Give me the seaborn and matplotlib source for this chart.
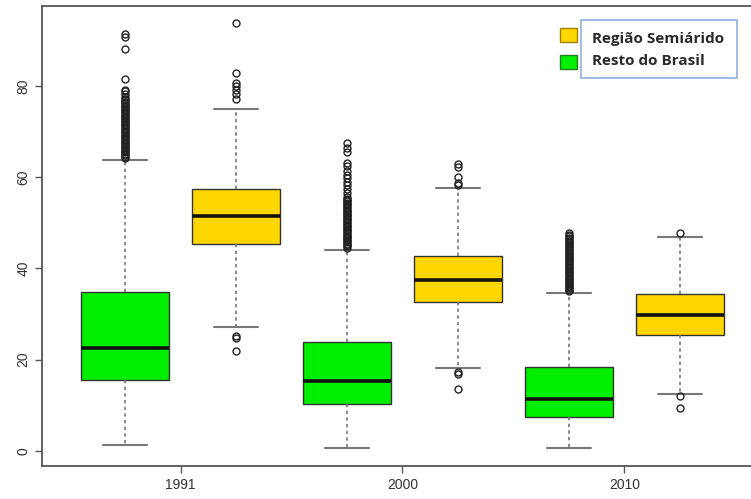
import numpy as np
import pandas as pd
import matplotlib
matplotlib.use("Agg")
import matplotlib.pyplot as plt
from matplotlib.patches import Rectangle
import seaborn as sns

# ---- data (five-number summaries + outliers) ----
years = ["1991", "1991", "2000", "2000", "2010", "2010"]
regions = ["Resto do Brasil", "Região Semiárido"] * 3
whisker_lo = [1.2, 27.2, 0.7, 18.1, 0.7, 12.5]
q1 = [15.5, 45.3, 10.2, 32.7, 7.4, 25.5]
median = [22.5, 51.5, 15.3, 37.5, 11.4, 29.8]
q3 = [34.9, 57.5, 23.8, 42.8, 18.3, 34.3]
whisker_hi = [63.7, 75.0, 44.1, 57.7, 34.6, 46.9]
outliers = [
    [64.2, 64.5, 64.8, 65.1, 65.4, 65.7, 66.0, 66.3, 66.6, 66.9, 67.2, 67.5,
     67.8, 68.1, 68.4, 68.7, 69.0, 69.3, 69.6, 69.9, 70.2, 70.5, 70.8, 71.1,
     71.4, 71.7, 72.0, 72.3, 72.6, 72.9, 73.2, 73.5, 73.8, 74.1, 74.4, 74.7,
     75.0, 75.3, 75.6, 75.9, 76.2, 76.5, 76.8, 77.1, 77.6, 78.2, 78.8, 79.1,
     81.4, 88.0, 90.6, 91.3],
    [21.8, 24.7, 25.2, 77.1, 78.2, 79.1, 80.0, 80.7, 82.9, 93.7],
    [44.5, 44.8, 45.1, 45.4, 45.7, 46.0, 46.3, 46.6, 46.9, 47.2, 47.5, 47.8,
     48.1, 48.4, 48.7, 49.0, 49.3, 49.6, 49.9, 50.2, 50.5, 50.8, 51.1, 51.4,
     51.7, 52.0, 52.3, 52.6, 52.9, 53.2, 53.5, 53.8, 54.1, 54.4, 54.7, 55.0,
     55.3, 55.7, 56.6, 57.4, 58.2, 59.0, 59.8, 60.5, 61.4, 62.5, 63.1, 65.4,
     66.3, 67.4],
    [13.5, 16.9, 17.2, 58.2, 58.8, 60.1, 62.3, 62.9],
    [35.0, 35.3, 35.6, 35.9, 36.2, 36.5, 36.8, 37.1, 37.4, 37.7, 38.0, 38.3,
     38.6, 38.9, 39.2, 39.5, 39.8, 40.1, 40.4, 40.7, 41.0, 41.3, 41.6, 41.9,
     42.2, 42.5, 42.8, 43.1, 43.4, 43.7, 44.0, 44.3, 44.6, 44.9, 45.2, 45.5,
     45.8, 46.1, 46.4, 46.7, 47.0, 47.4, 47.8],
    [9.5, 12.1, 47.7],
]
year_ticks = ["1991", "2000", "2010"]
region_order = ["Resto do Brasil", "Região Semiárido"]
legend_labels = ["Região Semiárido", "Resto do Brasil"]
colors = {"Resto do Brasil": "#00ee00", "Região Semiárido": "#ffd700"}

# ---- rebuild a sample whose quartiles/whiskers reproduce the summaries ----
REP = 200
rows = []
for i in range(len(years)):
    vals = ([whisker_lo[i]] * REP + [q1[i]] * REP + [median[i]] * REP +
            [q3[i]] * REP + [whisker_hi[i]] * REP + list(outliers[i]))
    rows.append(pd.DataFrame({"year": years[i], "region": regions[i], "value": vals}))
df = pd.concat(rows, ignore_index=True)

sns.set_style("white")
plt.rcParams["font.family"] = ["Liberation Sans", "DejaVu Sans"]

fig = plt.figure(figsize=(7.51, 4.99), dpi=100)
ax = fig.add_axes([42 / 751, 1 - 466 / 499, (763 - 42) / 751, (466 - 6) / 499])

sns.boxplot(
    data=df, x="year", y="value", hue="region", order=year_ticks,
    hue_order=region_order, palette=colors, saturation=1, width=1.0, gap=0.21,
    linecolor="#333333", linewidth=1.0, legend=False, ax=ax,
    whiskerprops=dict(linestyle=(0, (2, 2)), color="#777777", linewidth=1.2),
    capprops=dict(color="#777777", linewidth=1.5),
    medianprops=dict(color="#111111", linewidth=2.6),
    flierprops=dict(marker="o", markerfacecolor="none", markeredgecolor="#222222",
                    markersize=5, markeredgewidth=1.0),
)

ax.set_xlim(-0.624, 2.624)
ax.set_ylim(-3.3, 97.5)
ax.set_yticks([0, 20, 40, 60, 80])
ax.set_yticklabels(["0", "20", "40", "60", "80"], rotation=90, va="center")
ax.set_xlabel("")
ax.set_ylabel("")
ax.tick_params(axis="both", which="both", length=5, width=1, color="#555555",
               labelcolor="#333333", labelsize=10, left=True, bottom=True)
for side in ["left", "top", "bottom"]:
    ax.spines[side].set_color("#555555")
    ax.spines[side].set_linewidth(1.3)
ax.spines["right"].set_visible(False)

# ---- legend (swatches + framed text box) ----
sw_colors = [colors["Região Semiárido"], colors["Resto do Brasil"]]
sw_edges = ["#a08000", "#208020"]
sw_y = [35, 62]
for c, e, yc in zip(sw_colors, sw_edges, sw_y):
    fig.patches.append(Rectangle((560 / 751, 1 - (yc + 7) / 499), 17 / 751, 14 / 499,
                                 transform=fig.transFigure, facecolor=c,
                                 edgecolor=e, linewidth=1))
fig.patches.append(Rectangle((581 / 751, 1 - 78 / 499), 156 / 751, 58 / 499,
                             transform=fig.transFigure, facecolor="white",
                             edgecolor="#8fb0dc", linewidth=1.2))
for lab, yc in zip(legend_labels, [39, 61]):
    fig.text(592 / 751, 1 - yc / 499, lab, ha="left", va="center",
             fontsize=11, fontweight="bold", color="#2a2a2a",
             family=["Open Sans", "DejaVu Sans"])

fig.savefig("out.png", dpi=100)
